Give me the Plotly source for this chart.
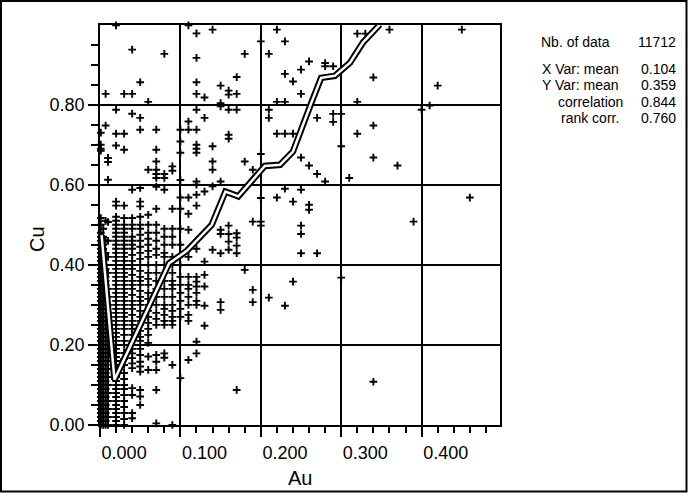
import plotly.graph_objects as go

# ---------------- data ----------------
# Au values of the point columns (Au is recorded on a 0.01 grid, near-zero values spread)
au_columns = [0.001, 0.004, 0.007, 0.010, 0.02, 0.03, 0.04, 0.05, 0.06, 0.07, 0.08, 0.09,
              0.10, 0.11, 0.12, 0.13, 0.14, 0.15, 0.16, 0.17, 0.18, 0.19, 0.20, 0.21, 0.22,
              0.23, 0.24, 0.25, 0.26, 0.27, 0.28, 0.29, 0.30, 0.31, 0.32, 0.33, 0.34, 0.36,
              0.37, 0.39, 0.40, 0.41, 0.42, 0.45, 0.46]

# Cu values read for each Au column
cu_by_column = [
    [0.00, 0.01, 0.02, 0.03, 0.04, 0.05, 0.06, 0.07, 0.08, 0.09, 0.10, 0.11, 0.12, 0.13, 0.14,
     0.15, 0.16, 0.17, 0.18, 0.19, 0.20, 0.21, 0.22, 0.23, 0.24, 0.25, 0.26, 0.27, 0.28, 0.29,
     0.30, 0.31, 0.32, 0.33, 0.34, 0.35, 0.36, 0.37, 0.38, 0.39, 0.40, 0.41, 0.42, 0.43, 0.44,
     0.45, 0.46, 0.47, 0.48, 0.50, 0.517, 0.685, 0.69, 0.70, 0.73],
    [0.00, 0.01, 0.02, 0.03, 0.04, 0.05, 0.06, 0.07, 0.08, 0.09, 0.10, 0.11, 0.12, 0.13, 0.14,
     0.15, 0.16, 0.17, 0.18, 0.19, 0.20, 0.21, 0.22, 0.23, 0.24, 0.25, 0.26, 0.27, 0.28, 0.29,
     0.30, 0.31, 0.32, 0.33, 0.34, 0.35, 0.36, 0.37, 0.38, 0.39, 0.40, 0.41, 0.42, 0.43, 0.44,
     0.45, 0.47, 0.49],
    [0.00, 0.01, 0.02, 0.03, 0.04, 0.05, 0.06, 0.07, 0.08, 0.09, 0.10, 0.11, 0.12, 0.13, 0.14,
     0.15, 0.16, 0.17, 0.18, 0.19, 0.20, 0.21, 0.22, 0.23, 0.24, 0.25, 0.26, 0.27, 0.28, 0.29,
     0.30, 0.31, 0.32, 0.33, 0.34, 0.35, 0.36, 0.37, 0.38, 0.39, 0.40, 0.43, 0.46, 0.51, 0.748,
     0.827],
    [0.00, 0.02, 0.04, 0.06, 0.08, 0.10, 0.12, 0.14, 0.16, 0.18, 0.20, 0.22, 0.24, 0.26, 0.28,
     0.30, 0.32, 0.34, 0.38, 0.42, 0.46, 0.507, 0.6125, 0.657, 0.667],
    [0.00, 0.01, 0.02, 0.03, 0.04, 0.05, 0.06, 0.07, 0.08, 0.09, 0.10, 0.11, 0.12, 0.13, 0.14,
     0.15, 0.16, 0.17, 0.18, 0.19, 0.20, 0.21, 0.22, 0.23, 0.24, 0.25, 0.26, 0.27, 0.28, 0.29,
     0.30, 0.31, 0.32, 0.33, 0.34, 0.35, 0.36, 0.37, 0.38, 0.39, 0.40, 0.41, 0.42, 0.43, 0.44,
     0.45, 0.46, 0.47, 0.48, 0.49, 0.50, 0.51, 0.52, 0.548, 0.558, 0.698, 0.7275, 0.7875, 0.998],
    [0.00, 0.015, 0.03, 0.045, 0.06, 0.075, 0.09, 0.10, 0.115, 0.13, 0.15, 0.165, 0.18, 0.20,
     0.21, 0.225, 0.24, 0.25, 0.26, 0.27, 0.28, 0.29, 0.30, 0.31, 0.32, 0.33, 0.34, 0.35, 0.36,
     0.37, 0.38, 0.39, 0.40, 0.41, 0.42, 0.43, 0.44, 0.45, 0.46, 0.47, 0.48, 0.49, 0.50, 0.517,
     0.548, 0.6875, 0.7275, 0.827],
    [0.017, 0.03, 0.075, 0.092, 0.142, 0.154, 0.167, 0.179, 0.19, 0.21, 0.225, 0.24, 0.25, 0.26,
     0.275, 0.29, 0.30, 0.31, 0.325, 0.34, 0.35, 0.36, 0.375, 0.39, 0.40, 0.41, 0.425, 0.44,
     0.45, 0.46, 0.47, 0.49, 0.50, 0.517, 0.5875, 0.7775, 0.827, 0.9375],
    [0.05, 0.071, 0.0875, 0.133, 0.146, 0.158, 0.175, 0.19, 0.21, 0.22, 0.235, 0.25, 0.26, 0.27,
     0.285, 0.30, 0.31, 0.32, 0.335, 0.35, 0.36, 0.37, 0.385, 0.40, 0.415, 0.43, 0.445, 0.46,
     0.475, 0.49, 0.50, 0.52, 0.546, 0.558, 0.592, 0.7375, 0.767, 0.856],
    [0.1375, 0.171, 0.205, 0.225, 0.24, 0.255, 0.27, 0.285, 0.30, 0.315, 0.33, 0.35, 0.365,
     0.38, 0.40, 0.42, 0.435, 0.45, 0.465, 0.48, 0.50, 0.525, 0.6375, 0.807],
    [0.004, 0.0875, 0.1375, 0.158, 0.175, 0.25, 0.265, 0.28, 0.30, 0.32, 0.34, 0.36, 0.38,
     0.40, 0.425, 0.44, 0.46, 0.48, 0.50, 0.54, 0.595, 0.617, 0.627, 0.6375, 0.658, 0.6875,
     0.7375],
    [0.168, 0.179, 0.25, 0.26, 0.275, 0.29, 0.30, 0.32, 0.34, 0.36, 0.38, 0.40, 0.42, 0.43,
     0.45, 0.47, 0.49, 0.5875, 0.617, 0.627, 0.927],
    [0.0, 0.15, 0.25, 0.26, 0.27, 0.285, 0.30, 0.32, 0.34, 0.35, 0.36, 0.38, 0.40, 0.42, 0.45,
     0.47, 0.49, 0.54, 0.635, 0.646],
    [0.117, 0.27, 0.29, 0.31, 0.33, 0.35, 0.37, 0.40, 0.45, 0.49, 0.54, 0.568, 0.612, 0.68,
     0.708, 0.7375],
    [0.1625, 0.26, 0.275, 0.30, 0.32, 0.34, 0.35, 0.37, 0.42, 0.4875, 0.5275, 0.568, 0.7375,
     0.758, 0.998],
    [0.179, 0.208, 0.30, 0.31, 0.33, 0.346, 0.358, 0.37, 0.44, 0.548, 0.575, 0.60, 0.608, 0.68,
     0.69, 0.70, 0.7375, 0.7875, 0.827, 0.856, 0.917, 0.978],
    [0.248, 0.298, 0.346, 0.375, 0.408, 0.583, 0.767, 0.818],
    [0.4375, 0.596, 0.6375, 0.658, 0.696, 0.9875],
    [0.2875, 0.307, 0.429, 0.477, 0.4875, 0.608, 0.796, 0.804, 0.8475],
    [0.4375, 0.458, 0.477, 0.498, 0.715, 0.725, 0.7875, 0.825, 0.835],
    [0.0875, 0.429, 0.448, 0.468, 0.479, 0.7875, 0.827, 0.869],
    [0.3875, 0.658, 0.927],
    [0.307, 0.3375, 0.508, 0.6375],
    [0.498, 0.508, 0.567, 0.677, 0.958],
    [0.318, 0.767, 0.7875, 0.927],
    [0.568, 0.7275, 0.807, 0.9875],
    [0.298, 0.59, 0.7275, 0.807, 0.877, 0.958],
    [0.358, 0.558, 0.7275, 0.858],
    [0.429, 0.477, 0.498, 0.5875, 0.668, 0.827, 0.8875],
    [0.5375, 0.55, 0.648, 0.908],
    [0.429, 0.627, 0.767],
    [0.608, 0.896, 0.904],
    [0.757, 0.777, 0.896],
    [0.368, 0.696, 0.777],
    [0.617],
    [0.7275, 0.807, 0.9775],
    [0.9775],
    [0.108, 0.668, 0.748, 0.868],
    [0.9875],
    [0.648],
    [0.508],
    [0.7875],
    [0.798],
    [0.8475],
    [0.9875],
    [0.568],
]

# conditional expectation curve
trend_au = [0.002, 0.018, 0.086, 0.100, 0.108, 0.139, 0.156, 0.172, 0.205, 0.224, 0.240,
            0.262, 0.275, 0.292, 0.311, 0.327, 0.348]
trend_cu = [0.474, 0.113, 0.404, 0.424, 0.435, 0.500, 0.583, 0.571, 0.647, 0.650, 0.683,
            0.800, 0.867, 0.872, 0.905, 0.955, 1.000]

stat_labels = ["Nb. of data", "X Var: mean", "Y Var: mean", "correlation", "rank corr."]
stat_values = ["11712", "0.104", "0.359", "0.844", "0.760"]

x_title = "Au"
y_title = "Cu"

# ---------------- build ----------------
au, cu = [], []
for a, ys in zip(au_columns, cu_by_column):
    au.extend([a] * len(ys))
    cu.extend(ys)

FONT = "Liberation Sans, Arial, sans-serif"

fig = go.Figure()
fig.add_trace(go.Scatter(
    x=au, y=cu, mode="markers", cliponaxis=False,
    marker=dict(symbol="cross-thin", size=5.5, color="black",
                line=dict(color="black", width=1.9)),
    hoverinfo="skip"))
fig.add_trace(go.Scatter(
    x=trend_au, y=trend_cu, mode="lines",
    line=dict(color="black", width=6.5), hoverinfo="skip"))
fig.add_trace(go.Scatter(
    x=trend_au, y=trend_cu, mode="lines",
    line=dict(color="white", width=2.5), hoverinfo="skip"))

axis_common = dict(
    ticks="outside", ticklen=10, tickwidth=1.5, tickcolor="black",
    showgrid=True, gridcolor="black", gridwidth=1.7,
    showline=True, linecolor="black", linewidth=1.7, mirror=True,
    zeroline=False, tickfont=dict(family=FONT, size=18, color="black"),
)

fig.update_xaxes(
    range=[0, 0.4975], tick0=0, dtick=0.1, tickformat=".3f",
    ticklabelposition="outside right", ticklabelstandoff=11,
    minor=dict(tick0=0, dtick=0.02, ticks="outside", ticklen=6, tickwidth=1.5,
               tickcolor="black", showgrid=False),
    **axis_common)
fig.update_yaxes(
    range=[0, 0.999], tick0=0, dtick=0.2, tickformat=".2f",
    minor=dict(tick0=0, dtick=0.05, ticks="outside", ticklen=7, tickwidth=1.5,
               tickcolor="black", showgrid=False),
    **axis_common)

W, H = 688, 493
L, R, T, B = 100, 188, 25, 68
PW, PH = W - L - R, H - T - B


def px_to_paper(px, py):
    return (px - L) / PW, (H - B - py) / PH


annotations = []
# axis titles
ax, ay = px_to_paper(300, 478)
annotations.append(dict(text=x_title, x=ax, y=ay, xref="paper", yref="paper",
                        xanchor="center", yanchor="middle", showarrow=False,
                        font=dict(family=FONT, size=20, color="black")))
ax, ay = px_to_paper(37, 239)
annotations.append(dict(text=y_title, x=ax, y=ay, xref="paper", yref="paper",
                        xanchor="center", yanchor="middle", showarrow=False, textangle=-90,
                        font=dict(family=FONT, size=20, color="black")))

# statistics block
stat_rows_y = [42, 68.5, 85, 101.5, 118]
label_right = [611, 620, 620, 624, 620]
for lab, val, yy, lr in zip(stat_labels, stat_values, stat_rows_y, label_right):
    ax, ay = px_to_paper(lr, yy)
    annotations.append(dict(text=lab, x=ax, y=ay, xref="paper", yref="paper",
                            xanchor="right", yanchor="middle", showarrow=False, borderpad=0,
                            font=dict(family=FONT, size=14, color="black")))
    ax, ay = px_to_paper(677, yy)
    annotations.append(dict(text=val, x=ax, y=ay, xref="paper", yref="paper",
                            xanchor="right", yanchor="middle", showarrow=False, borderpad=0,
                            font=dict(family=FONT, size=14, color="black")))

# outer frame around the whole picture
fx0, fy0 = px_to_paper(1, 491.5)
fx1, fy1 = px_to_paper(686.5, 1)
shapes = [dict(type="rect", xref="paper", yref="paper", x0=fx0, y0=fy0, x1=fx1, y1=fy1,
               line=dict(color="black", width=2), fillcolor="rgba(0,0,0,0)", layer="above")]

fig.update_layout(
    width=W, height=H, margin=dict(l=L, r=R, t=T, b=B, pad=0),
    paper_bgcolor="white", plot_bgcolor="white", showlegend=False,
    font=dict(family=FONT, size=18, color="black"),
    annotations=annotations, shapes=shapes,
)

fig.write_html("out.html")
